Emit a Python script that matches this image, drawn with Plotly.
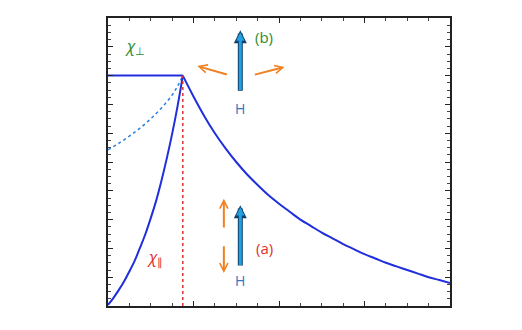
import plotly.graph_objects as go

# Data (x in units of minor tick spacing along T, y in minor tick units of chi)
TN = 3.5
chi_perp_x = [0.0, 3.5]
chi_perp_y = [32.0, 32.0]

chi_perp_dash_x = [0.0, 0.5, 1.0, 1.5, 2.0, 2.5, 3.0, 3.25, 3.5]
chi_perp_dash_y = [21.7, 22.6, 23.6, 24.7, 26.0, 27.5, 29.3, 30.5, 32.0]

chi_par_x = [0.0, 0.25, 0.5, 0.75, 1.0, 1.25, 1.5, 1.75, 2.0, 2.25, 2.5, 2.75, 3.0, 3.25, 3.5]
chi_par_y = [0.15, 1.1, 2.2, 3.4, 4.8, 6.3, 8.1, 10.0, 12.2, 14.6, 17.4, 20.5, 23.9, 27.7, 32.0]

para_x = [3.5, 4.0, 4.5, 5.0, 5.5, 6.0, 6.5, 7.0, 7.5, 8.0, 8.5, 9.0, 9.5, 10.0,
          10.5, 11.0, 11.5, 12.0, 12.5, 13.0, 13.5, 14.0, 14.5, 15.0, 15.5, 16.0]
para_y = [32.0, 29.1, 26.4, 24.0, 21.9, 20.0, 18.3, 16.8, 15.4, 14.2, 13.1, 12.0, 11.1, 10.2,
          9.4, 8.6, 7.9, 7.2, 6.6, 6.0, 5.5, 5.0, 4.5, 4.0, 3.6, 3.2]

BLUE = "#1f2fdc"
LBLUE = "#2b7fe0"
RED = "#e03030"
GREEN = "#2e8b2e"
ORANGE = "#f08020"
ABLUE = "#22a0e0"
HBLUE = "#2f78c8"

fig = go.Figure()
fig.add_trace(go.Scatter(x=chi_perp_dash_x, y=chi_perp_dash_y, mode="lines",
                         line=dict(color=LBLUE, width=1.5, dash="dot", shape="spline")))
fig.add_trace(go.Scatter(x=chi_perp_x, y=chi_perp_y, mode="lines",
                         line=dict(color=BLUE, width=2)))
fig.add_trace(go.Scatter(x=chi_par_x, y=chi_par_y, mode="lines",
                         line=dict(color=BLUE, width=2, shape="spline")))
fig.add_trace(go.Scatter(x=para_x, y=para_y, mode="lines",
                         line=dict(color=BLUE, width=2, shape="spline")))
fig.add_trace(go.Scatter(x=[TN, TN], y=[0, 32.0], mode="lines",
                         line=dict(color=RED, width=1.5, dash="dot")))

anns = []

def arrow(x0, y0, x1, y1, color, width, size=1.0, head=2):
    anns.append(dict(x=x1, y=y1, ax=x0, ay=y0, xref="x", yref="y", axref="x", ayref="y",
                     showarrow=True, arrowhead=head, arrowsize=size, arrowwidth=width,
                     arrowcolor=color, text=""))

# (b) configuration
arrow(6.19, 29.7, 6.19, 38.3, "#123f6a", 5, 0.52, 2)
arrow(6.19, 29.8, 6.19, 38.0, ABLUE, 3, 0.55, 2)
arrow(5.63, 32.08, 4.18, 33.33, ORANGE, 2, 0.8, 5)
arrow(6.80, 32.08, 8.26, 33.19, ORANGE, 2, 0.8, 5)
# (a) configuration
arrow(6.19, 5.4, 6.19, 14.0, "#123f6a", 5, 0.52, 2)
arrow(6.19, 5.5, 6.19, 13.7, ABLUE, 3, 0.55, 2)
arrow(5.42, 10.7, 5.42, 14.9, ORANGE, 2, 0.8, 5)
arrow(5.42, 8.5, 5.42, 4.6, ORANGE, 2, 0.8, 5)

def label(x, y, text, color, size=14):
    anns.append(dict(x=x, y=y, xref="x", yref="y", text=text, showarrow=False,
                     font=dict(color=color, size=size, family="Open Sans")))

label(1.27, 36.0, "<i>χ</i><sub>⊥</sub>", GREEN, 16)
label(7.3, 37.3, "(b)", GREEN, 15)
label(6.19, 27.4, "H", HBLUE, 14)
label(6.19, 3.6, "H", HBLUE, 14)
label(7.3, 8.0, "(a)", RED, 15)
label(2.2, 6.7, "<i>χ</i><sub>∥</sub>", RED, 16)
label(-0.75, 17.5, "<i>χ</i>", RED, 16)
label(7.98, -2.0, "<i>T</i> (K)", RED, 14)

fig.update_layout(annotations=anns)

axis_common = dict(showticklabels=False, ticks="inside", ticklen=5, tickwidth=1,
                   tickcolor="#222", showline=True, linecolor="#222", linewidth=1.5,
                   mirror="allticks", showgrid=False, zeroline=False,
                   minor=dict(ticks="inside", ticklen=3, tickcolor="#444", showgrid=False))

fig.update_xaxes(range=[0, 16], dtick=4, tick0=0, minor_dtick=1, **axis_common)
fig.update_yaxes(range=[0, 40], dtick=4, tick0=0, minor_dtick=1, **axis_common)

fig.update_layout(width=522, height=330, margin=dict(l=108, r=72, t=18, b=24),
                  paper_bgcolor="white", plot_bgcolor="white", showlegend=False)

fig.write_html("out.html")
